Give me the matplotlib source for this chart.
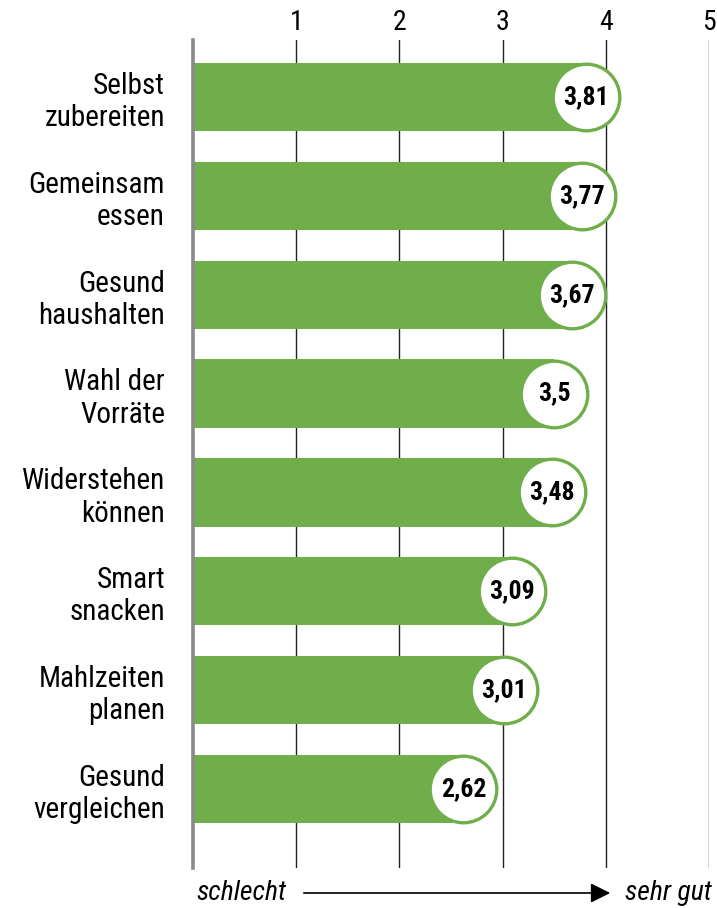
import matplotlib
matplotlib.use("Agg")
import matplotlib.pyplot as plt
from matplotlib import font_manager

categories = ["Selbst\nzubereiten", "Gemeinsam\nessen", "Gesund\nhaushalten",
              "Wahl der\nVorräte", "Widerstehen\nkönnen", "Smart\nsnacken",
              "Mahlzeiten\nplanen", "Gesund\nvergleichen"]
values = [3.81, 3.77, 3.67, 3.5, 3.48, 3.09, 3.01, 2.62]
value_labels = ["3,81", "3,77", "3,67", "3,5", "3,48", "3,09", "3,01", "2,62"]
xticks = [1, 2, 3, 4, 5]
xtick_labels = ["1", "2", "3", "4", "5"]
left_label = "schlecht"
right_label = "sehr gut"

avail = {f.name for f in font_manager.fontManager.ttflist}
family = "DejaVu Sans"
for cand in ["Liberation Sans Narrow", "Roboto Condensed", "Open Sans Condensed", "Roboto", "Liberation Sans"]:
    if cand in avail:
        family = cand
        break
plt.rcParams['font.family'] = [family, 'DejaVu Sans']

GREEN = "#6fae4a"

W, H = 717, 908
fig = plt.figure(figsize=(W / 100, H / 100), dpi=100)
ax = fig.add_axes([193 / W, 1 - 868 / H, (709 - 193) / W, (868 - 40) / H])

n = len(categories)
ypos = list(range(n))
ax.set_xlim(0, 5)
ax.set_ylim(7.8, -0.577)

for x in xticks:
    ax.axvline(x, color="#222222", lw=1.0, zorder=0)

ax.barh(ypos, values, height=0.69, color=GREEN, zorder=2)
ax.scatter(values, ypos, s=2300, facecolor="white", edgecolor=GREEN, linewidth=2.4,
           zorder=3, clip_on=False)
for v, y, lab in zip(values, ypos, value_labels):
    ax.text(v, y, lab, ha="center", va="center", fontsize=18.5, fontweight="bold",
            color="black", zorder=4)

for y, cat in zip(ypos, categories):
    ax.annotate(cat, xy=(0, y), xycoords="data", xytext=(-28, -5), textcoords="offset pixels",
                ha="right", va="center", fontsize=21, linespacing=1.2, color="black")

ax.xaxis.tick_top()
ax.set_xticks(xticks)
ax.set_xticklabels(xtick_labels, fontsize=20)
ax.tick_params(axis="x", length=0, pad=3)
ax.set_yticks([])

for s in ["right", "bottom", "top"]:
    ax.spines[s].set_visible(False)
ax.spines["left"].set_color("#8a8a8a")
ax.spines["left"].set_linewidth(2.6)

yb = 1 - 893 / H
fig.text(196 / W, yb, left_label, ha="left", va="center", fontsize=20, style="italic")
fig.text(712 / W, yb, right_label, ha="right", va="center", fontsize=20, style="italic")
fig.patches.append(matplotlib.patches.FancyArrowPatch(
    (301 / W, yb), (613 / W, yb), transform=fig.transFigure, figure=fig,
    arrowstyle="-|>,head_length=8,head_width=4", mutation_scale=1.5, lw=1.2, color="black"))

fig.savefig("out.png", dpi=100)
